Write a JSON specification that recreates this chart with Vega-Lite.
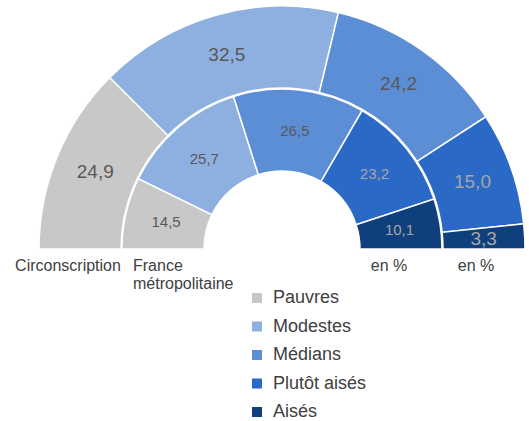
{
  "$schema": "https://vega.github.io/schema/vega-lite/v6.json",
  "width": 529,
  "height": 421,
  "padding": 0,
  "autosize": "none",
  "config": {
    "view": {"stroke": null},
    "font": "Liberation Sans",
    "locale": {"number": {"decimal": ",", "thousands": " ", "grouping": [3], "currency": ["", " €"]}}
  },
  "datasets": {
    "rings": [
      {"ring": "Circonscription", "cat": "Pauvres", "ord": 1, "value": 24.9},
      {"ring": "Circonscription", "cat": "Modestes", "ord": 2, "value": 32.5},
      {"ring": "Circonscription", "cat": "Médians", "ord": 3, "value": 24.2},
      {"ring": "Circonscription", "cat": "Plutôt aisés", "ord": 4, "value": 15.0},
      {"ring": "Circonscription", "cat": "Aisés", "ord": 5, "value": 3.3},
      {"ring": "France métropolitaine", "cat": "Pauvres", "ord": 1, "value": 14.5},
      {"ring": "France métropolitaine", "cat": "Modestes", "ord": 2, "value": 25.7},
      {"ring": "France métropolitaine", "cat": "Médians", "ord": 3, "value": 26.5},
      {"ring": "France métropolitaine", "cat": "Plutôt aisés", "ord": 4, "value": 23.2},
      {"ring": "France métropolitaine", "cat": "Aisés", "ord": 5, "value": 10.1}
    ]
  },
  "layer": [
    {
      "data": {"name": "rings"},
      "transform": [{"filter": "datum.ring === 'Circonscription'"}],
      "mark": {"type": "arc", "x": 282, "y": 249, "radius": 243, "radius2": 161, "stroke": "white", "strokeWidth": 1.5},
      "encoding": {
        "theta": {"field": "value", "type": "quantitative", "stack": "normalize", "scale": {"range": [-1.5708, 1.5708]}},
        "order": {"field": "ord", "type": "quantitative"},
        "color": {
          "field": "cat", "type": "nominal",
          "scale": {"domain": ["Pauvres", "Modestes", "Médians", "Plutôt aisés", "Aisés"], "range": ["#C8C8C8", "#8EB0E1", "#5B8ED5", "#2B69C7", "#0F3F7C"]},
          "legend": {
            "title": null, "orient": "none", "legendX": 248, "legendY": 289,
            "symbolType": "square", "symbolSize": 100, "symbolStrokeWidth": 0,
            "labelFontSize": 18, "labelColor": "#404040", "labelFont": "Liberation Sans",
            "rowPadding": 10.5, "labelOffset": 7, "padding": 0
          }
        }
      }
    },
    {
      "data": {"name": "rings"},
      "transform": [{"filter": "datum.ring === 'France métropolitaine'"}],
      "mark": {"type": "arc", "x": 282, "y": 249, "radius": 160, "radius2": 78, "stroke": "white", "strokeWidth": 1.5},
      "encoding": {
        "theta": {"field": "value", "type": "quantitative", "stack": "normalize"},
        "order": {"field": "ord", "type": "quantitative"},
        "color": {"field": "cat", "type": "nominal"}
      }
    },
    {
      "data": {"name": "rings"},
      "transform": [{"filter": "datum.ring === 'Circonscription'"}],
      "mark": {"type": "text", "x": 282, "y": 249, "radius": 202, "fontSize": 19, "font": "Liberation Sans"},
      "encoding": {
        "theta": {"field": "value", "type": "quantitative", "stack": "normalize"},
        "order": {"field": "ord", "type": "quantitative"},
        "text": {"field": "value", "type": "quantitative", "format": ".1f"},
        "color": {"condition": {"test": "datum.cat === 'Plutôt aisés' || datum.cat === 'Aisés'", "value": "#A6A6A6"}, "value": "#595959"}
      }
    },
    {
      "data": {"name": "rings"},
      "transform": [{"filter": "datum.ring === 'France métropolitaine'"}],
      "mark": {"type": "text", "x": 282, "y": 249, "radius": 119, "fontSize": 15, "font": "Liberation Sans"},
      "encoding": {
        "theta": {"field": "value", "type": "quantitative", "stack": "normalize"},
        "order": {"field": "ord", "type": "quantitative"},
        "text": {"field": "value", "type": "quantitative", "format": ".1f"},
        "color": {"condition": {"test": "datum.cat === 'Plutôt aisés' || datum.cat === 'Aisés'", "value": "#A6A6A6"}, "value": "#595959"}
      }
    },
    {
      "data": {"values": [{"label": "Circonscription"}]},
      "mark": {"type": "text", "x": 68, "y": 266, "align": "center", "baseline": "middle", "fontSize": 16, "color": "#404040", "font": "Liberation Sans"},
      "encoding": {"text": {"field": "label"}}
    },
    {
      "data": {"values": [{"label": "France\nmétropolitaine"}]},
      "mark": {"type": "text", "x": 133, "y": 266, "align": "left", "baseline": "middle", "lineBreak": "\n", "lineHeight": 18, "fontSize": 16, "color": "#404040", "font": "Liberation Sans"},
      "encoding": {"text": {"field": "label"}}
    },
    {
      "data": {"values": [{"label": "en %"}]},
      "mark": {"type": "text", "x": 389, "y": 266, "align": "center", "baseline": "middle", "fontSize": 16, "color": "#404040", "font": "Liberation Sans"},
      "encoding": {"text": {"field": "label"}}
    },
    {
      "data": {"values": [{"label": "en %"}]},
      "mark": {"type": "text", "x": 476, "y": 266, "align": "center", "baseline": "middle", "fontSize": 16, "color": "#404040", "font": "Liberation Sans"},
      "encoding": {"text": {"field": "label"}}
    }
  ]
}
